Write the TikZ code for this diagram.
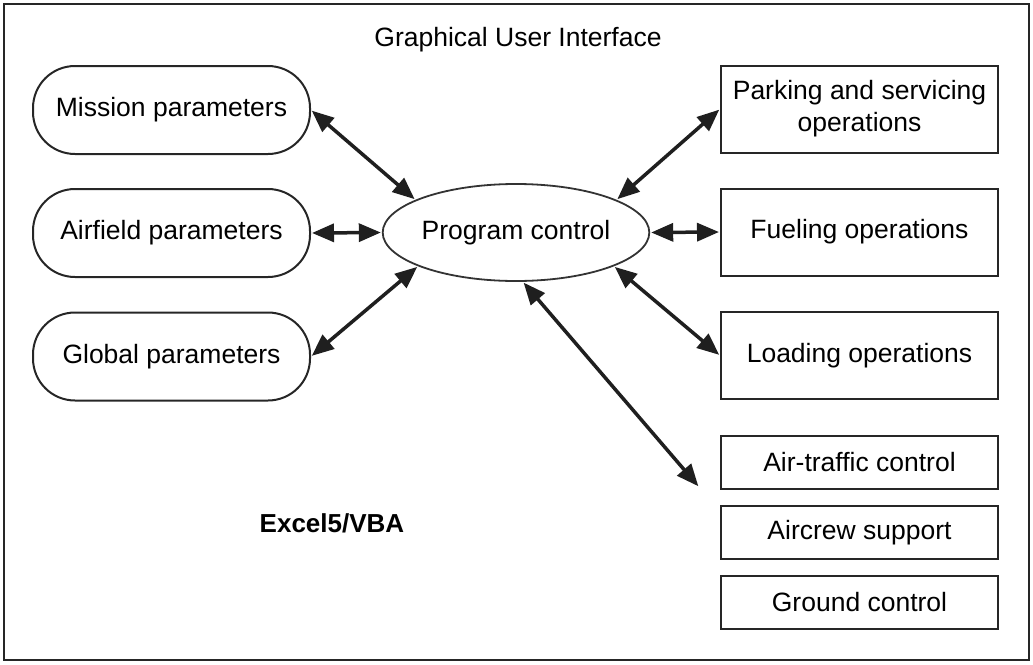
\documentclass[tikz,border=0pt]{standalone}
\usepackage{fontspec}
\setmainfont{Liberation Sans}
\usetikzlibrary{arrows.meta,shapes.geometric}
\begin{document}
\begin{tikzpicture}[x=1pt,y=-1pt,
  font=\fontsize{26.5}{32}\selectfont,
  rbox/.style={draw=black!85,line width=2pt,rounded corners=42pt,minimum width=277pt,minimum height=88pt,inner sep=0pt},
  sbox/.style={draw=black!85,line width=2pt,minimum width=277pt,minimum height=87pt,inner sep=0pt,align=center},
  tbox/.style={draw=black!85,line width=2pt,minimum width=277pt,minimum height=53pt,inner sep=0pt},
  conn/.style={line width=3.5pt,draw=black!88,{Triangle[length=22pt,width=18pt]}-{Triangle[length=22pt,width=18pt]},shorten <=1pt,shorten >=1pt}]
\useasboundingbox (0,0) rectangle (1033,664);
\draw[line width=2.6pt,draw=black!85] (4,4) rectangle (1029,660);
\node (gui) at (518,40) {Graphical User Interface};
\node[rbox] (mission) at (171.5,110) {Mission parameters};
\node[rbox] (airfield) at (171.5,233) {Airfield parameters};
\node[rbox] (global) at (171.5,356.5) {Global parameters};
\node[draw=black!80,line width=1.8pt,ellipse,minimum width=260pt,minimum height=97pt,inner sep=0pt] (pc) at (516,232.5) {Program control};
\node[sbox] (parking) at (859.5,109) {Parking and servicing\\operations};
\node[sbox] (fueling) at (859.5,232) {Fueling operations};
\node[sbox] (loading) at (859.5,355.5) {Loading operations};
\node[tbox] (atc) at (859.5,462.5) {Air-traffic control};
\node[tbox] (aircrew) at (859.5,532.5) {Aircrew support};
\node[tbox] (ground) at (859.5,602.5) {Ground control};
\node[font=\fontsize{26}{32}\selectfont\bfseries] (excel) at (332,523) {Excel5/VBA};
\coordinate (atcend) at (699,487);
\draw[conn] (mission.east) -- (pc.162);
\draw[conn] (airfield.east) -- (pc.west);
\draw[conn] (global.east) -- (pc.199);
\draw[conn] (parking.west) -- (pc.18);
\draw[conn] (fueling.west) -- (pc.east);
\draw[conn] (loading.west) -- (pc.-19);
\draw[conn] (atcend) -- (pc.-82);
\end{tikzpicture}
\end{document}
